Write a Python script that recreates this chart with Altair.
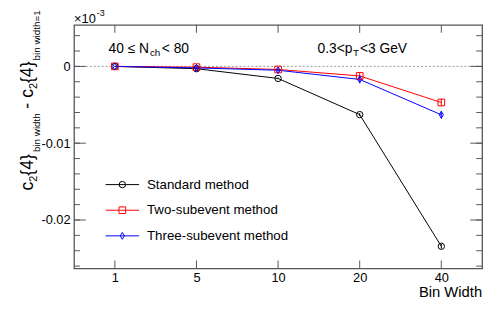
import altair as alt
import numpy as np
import pandas as pd

# ---- data ----
bins = ["1", "5", "10", "20", "40"]
series_names = ["Standard method", "Two-subevent method", "Three-subevent method"]
standard = [0.0, -0.0003, -0.00157, -0.00628, -0.02342]
two_sub = [0.0, -0.0001, -0.0004, -0.00124, -0.0047]
three_sub = [0.0, -0.0002, -0.0005, -0.0017, -0.0063]
standard_err = [0.0, 0.0001, 0.0001, 0.0002, 0.0003]
two_sub_err = [0.0, 0.0001, 0.0002, 0.0005, 0.0005]
three_sub_err = [0.0, 0.0001, 0.0002, 0.0005, 0.0005]

y_major = [0.0, -0.01, -0.02]
y_minor = [round(v, 4) for v in np.arange(0.004, -0.0265, -0.002)]

W, H = 414, 247
FONT = "Liberation Sans"

rows = []
for name, vals, errs in zip(series_names, [standard, two_sub, three_sub],
                            [standard_err, two_sub_err, three_sub_err]):
    for i, (b, v, e) in enumerate(zip(bins, vals, errs)):
        rows.append({"bin": b, "idx": i, "series": name, "value": v,
                     "lo": v - e, "hi": v + e})
df = pd.DataFrame(rows)

color_scale = alt.Scale(domain=series_names, range=["#000000", "#ff0000", "#0000ff"])
shape_scale = alt.Scale(domain=series_names,
                        range=["circle", "square", "M0,-1L0.6,0L0,1L-0.6,0Z"])
size_scale = alt.Scale(domain=series_names, range=[42, 49, 110])

xscale = alt.Scale(type="point", padding=0.5)
yscale = alt.Scale(domain=[-0.0263, 0.0054], nice=False, zero=False)
xaxis = alt.Axis(labelAngle=0, ticks=False, domain=False, grid=False,
                 labelFontSize=13, labelPadding=3, labelColor="#000", labelFont=FONT,
                 title=None)
yaxis = alt.Axis(values=y_major, ticks=False, domain=False, grid=False,
                 labelFontSize=13, labelPadding=4, labelColor="#000", labelFont=FONT,
                 title=None,
                 labelExpr="datum.value == 0 ? '0' : '' + datum.value")


def X():
    return alt.X("bin:N", sort=bins, scale=xscale, axis=xaxis, title=None)


def Y(field):
    return alt.Y(field, scale=yscale, axis=yaxis, title=None)


base = alt.Chart(df)

lines = base.mark_line(strokeWidth=1).encode(
    x=X(), y=Y("value:Q"),
    color=alt.Color("series:N", scale=color_scale, legend=None),
    order="idx:Q",
)

errs = base.mark_rule(strokeWidth=1).encode(
    x=X(), y=Y("lo:Q"), y2="hi:Q",
    color=alt.Color("series:N", scale=color_scale, legend=None),
)

points = base.mark_point(filled=False, strokeWidth=1, opacity=1).encode(
    x=X(), y=Y("value:Q"),
    color=alt.Color("series:N", scale=color_scale, legend=None),
    shape=alt.Shape("series:N", scale=shape_scale, legend=None),
    size=alt.Size("series:N", scale=size_scale, legend=None),
)

zero_line = alt.Chart(pd.DataFrame({"z": [0.0]})).mark_rule(
    color="#999999", strokeDash=[2, 2], strokeWidth=1
).encode(y=Y("z:Q"))

# ---- inner ticks (ROOT style frame) ----
ymaj = pd.DataFrame({"v": y_major})
ymin = pd.DataFrame({"v": y_minor})
tick_col = "#555555"
ticks = []
for d, ln in [(ymaj, 12), (ymin, 6)]:
    ticks.append(alt.Chart(d).mark_rule(color=tick_col, strokeWidth=1).encode(
        y=Y("v:Q"), x=alt.value(0), x2=alt.value(ln)))
    ticks.append(alt.Chart(d).mark_rule(color=tick_col, strokeWidth=1).encode(
        y=Y("v:Q"), x=alt.value(W - ln), x2=alt.value(W)))
bdf = pd.DataFrame({"bin": bins})
ticks.append(alt.Chart(bdf).mark_rule(color=tick_col, strokeWidth=1).encode(
    x=X(), y=alt.value(H - 8), y2=alt.value(H)))
ticks.append(alt.Chart(bdf).mark_rule(color=tick_col, strokeWidth=1).encode(
    x=X(), y=alt.value(0), y2=alt.value(8)))

# ---- manual legend ----
leg = pd.DataFrame({"series": series_names, "k": [0, 1, 2]})
legbase = alt.Chart(leg).transform_calculate(ly="162 + 26 * datum.k")
leg_lines = legbase.mark_rule(strokeWidth=1).encode(
    x=alt.value(32), x2=alt.value(66), y=alt.Y("ly:Q", scale=None, axis=None),
    color=alt.Color("series:N", scale=color_scale, legend=None))
leg_pts = legbase.mark_point(filled=False, strokeWidth=1, opacity=1).encode(
    x=alt.value(49), y=alt.Y("ly:Q", scale=None, axis=None),
    color=alt.Color("series:N", scale=color_scale, legend=None),
    shape=alt.Shape("series:N", scale=shape_scale, legend=None),
    size=alt.Size("series:N", scale=size_scale, legend=None))
leg_text = legbase.mark_text(align="left", baseline="middle", fontSize=13.5,
                             color="#000", font=FONT).encode(
    x=alt.value(74), y=alt.Y("ly:Q", scale=None, axis=None), text="series:N")

# ---- text annotations (text, x, y, fontSize, angle) relative to plot area ----
ann = pd.DataFrame([
    ("40 \u2264 N", 35, 24, 14, 0),
    ("ch", 77, 29, 10, 0),
    ("< 80", 89, 24, 14, 0),
    ("0.3<p", 247, 24, 14, 0),
    ("T", 283, 29, 10, 0),
    ("<3 GeV", 290, 24, 14, 0),
    ("\u00d710", 0, -6, 13, 0),
    ("-3", 23, -12, 9, 0),
    ("c", -47, 168, 18, 270),
    ("2", -41, 159, 11, 270),
    ("{4}", -47, 153, 18, 270),
    ("bin width", -38, 129, 10, 270),
    ("-", -47, 85, 18, 270),
    ("c", -47, 74, 18, 270),
    ("2", -41, 65, 11, 270),
    ("{4}", -47, 59, 18, 270),
    ("bin width=1", -38, 36, 10, 270),
], columns=["t", "px", "py", "fs", "ang"])
annot = alt.Chart(ann).mark_text(align="left", baseline="middle", color="#000",
                                 font=FONT).encode(
    x=alt.X("px:Q", scale=None, axis=None), y=alt.Y("py:Q", scale=None, axis=None),
    size=alt.Size("fs:Q", scale=None, legend=None),
    angle=alt.Angle("ang:Q", scale=None), text="t:N")

xtitle = alt.Chart(pd.DataFrame({"t": ["Bin Width"]})).mark_text(
    align="right", baseline="middle", fontSize=15, color="#000", font=FONT
).encode(x=alt.value(W), y=alt.value(H + 24), text="t:N")

chart = alt.layer(
    zero_line, lines, errs, points, *ticks, leg_lines, leg_pts, leg_text, annot, xtitle
).properties(
    width=W, height=H,
    autosize=alt.AutoSizeParams(type="none"),
    padding={"left": 67, "top": 15, "right": 8, "bottom": 36},
).configure(font=FONT).configure_view(
    stroke="#555555", strokeWidth=1.3
)

chart.save("out.html", embed_options={"renderer": "svg", "actions": False})
